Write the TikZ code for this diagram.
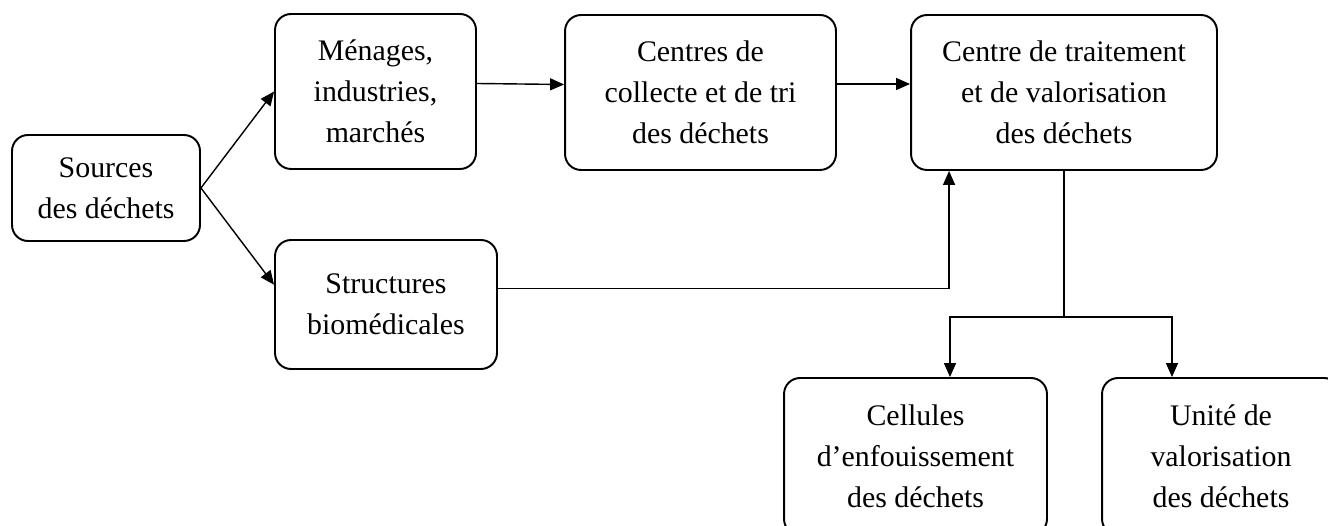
\documentclass[tikz,border=0pt]{standalone}
\usepackage{fontspec}
\setmainfont{Liberation Serif}
\usetikzlibrary{arrows.meta,calc}

\begin{document}
\begin{tikzpicture}[x=0.02cm,y=-0.02cm,
  box/.style={draw,line width=1.1pt,rounded corners=0.32cm,align=center,
    inner sep=0pt,font=\fontsize{17}{23.3}\selectfont},
  link/.style={line width=0.8pt,-{Triangle[length=0.28cm,width=0.24cm]}}]
\useasboundingbox (0,0) rectangle (1328,526);
\node[box,minimum width=3.76cm,minimum height=2.12cm] (src) at (106,188) {Sources\\des déchets};
\node[box,minimum width=4.02cm,minimum height=3.1cm] (men) at (375.5,91.5) {Ménages,\\industries,\\marchés};
\node[box,minimum width=5.42cm,minimum height=3.1cm] (coll) at (700.5,92.5) {Centres de\\collecte et de tri\\des déchets};
\node[box,minimum width=6.12cm,minimum height=3.1cm] (trait) at (1064,92.5) {Centre de traitement\\et de valorisation\\des déchets};
\node[box,minimum width=4.44cm,minimum height=2.58cm] (bio) at (386,304.5) {Structures\\biomédicales};
\node[box,minimum width=5.26cm,minimum height=3.14cm] (cell) at (915.5,456.5) {Cellules\\d’enfouissement\\des déchets};
\node[box,minimum width=4.76cm,minimum height=3.14cm] (uni) at (1221,456.5) {Unité de\\valorisation\\des déchets};
\coordinate (split) at (1064,317);
\draw[link] (src.east) -- (men.west);
\draw[link] (src.east) -- (bio.170);
\draw[link] ([yshift=0.16cm]men.east) -- ([yshift=0.16cm]coll.west);
\draw[link] ([yshift=0.17cm]coll.east) -- ([yshift=0.17cm]trait.west);
\draw[link] (bio.8.5) -| ($(trait.south west)+(39,0)$);
\draw[line width=0.8pt] (trait.south) -- (split);
\draw[link] (split) -| ($(cell.north)+(34.5,0)$);
\draw[link] (split) -| ($(uni.north)+(-49,0)$);
\end{tikzpicture}
\end{document}
